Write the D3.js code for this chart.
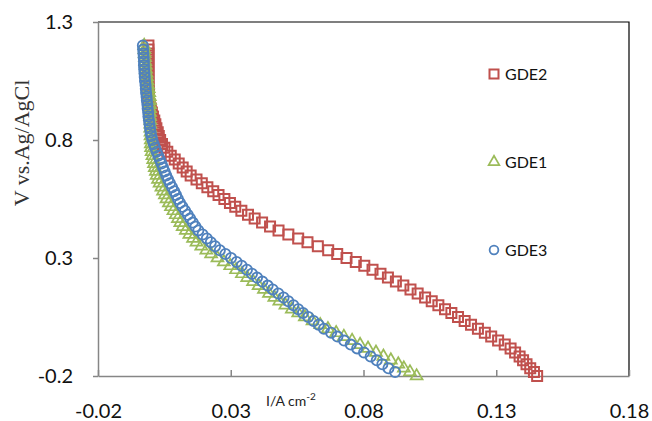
<!DOCTYPE html>
<html>
<head>
<meta charset="utf-8">
<script src="https://cdnjs.cloudflare.com/ajax/libs/d3/7.8.5/d3.min.js"></script>
<style>
  body { margin: 0; background: #fff; }
</style>
</head>
<body>
<div id="container"></div>
<script>
let w = 652;
let h = 421;
let plotLeft = 98, plotRight = 629, plotTop = 22, plotBottom = 376;

// DATA
let xTicks = [-0.02, 0.03, 0.08, 0.13, 0.18];
let yTicks = [-0.2, 0.3, 0.8, 1.3];
let seriesNames = ["GDE2", "GDE1", "GDE3"];

// sweep potential (V vs. Ag/AgCl), shared by all three electrodes
let potential = [
  1.200, 1.183, 1.167, 1.150, 1.133, 1.117, 1.100, 1.083, 1.067, 1.050, 1.033, 1.017,
  1.000, 0.983, 0.967, 0.950, 0.933, 0.917, 0.900, 0.883, 0.867, 0.850, 0.833, 0.817,
  0.800, 0.783, 0.767, 0.750, 0.733, 0.717, 0.700, 0.683, 0.667, 0.650, 0.633, 0.617,
  0.600, 0.583, 0.567, 0.550, 0.533, 0.517, 0.500, 0.483, 0.467, 0.450, 0.433, 0.417,
  0.400, 0.383, 0.367, 0.350, 0.333, 0.317, 0.300, 0.283, 0.267, 0.250, 0.233, 0.217,
  0.200, 0.183, 0.167, 0.150, 0.133, 0.117, 0.100, 0.083, 0.067, 0.050, 0.033, 0.017,
  0.000, -0.017, -0.033, -0.050, -0.067, -0.083, -0.100, -0.117, -0.133, -0.150, -0.167, -0.183, -0.200
];

// current density (A cm-2)
let gde2 = [
  -0.0010, -0.0010, -0.0010, -0.0010, -0.0010, -0.0010, -0.0010, -0.0010, -0.0010, -0.0010, -0.0010, -0.0009,
  -0.0009, -0.0009, -0.0008, -0.0005, -0.0001, 0.0003, 0.0007, 0.0012, 0.0016, 0.0020, 0.0025, 0.0029,
  0.0034, 0.0041, 0.0050, 0.0061, 0.0074, 0.0089, 0.0104, 0.0119, 0.0134, 0.0149, 0.0171, 0.0191,
  0.0212, 0.0234, 0.0254, 0.0276, 0.0297, 0.0317, 0.0340, 0.0365, 0.0390, 0.0418, 0.0448, 0.0480,
  0.0517, 0.0554, 0.0589, 0.0628, 0.0667, 0.0701, 0.0736, 0.0771, 0.0803, 0.0834, 0.0864, 0.0892,
  0.0922, 0.0950, 0.0977, 0.1004, 0.1032, 0.1057, 0.1082, 0.1107, 0.1131, 0.1156, 0.1181, 0.1205,
  0.1231, 0.1257, 0.1281, 0.1307, 0.1332, 0.1354, 0.1371, 0.1388, 0.1401, 0.1414, 0.1428, 0.1442, 0.1454
];
let gde1 = [
  -0.0026, -0.0025, -0.0024, -0.0023, -0.0022, -0.0020, -0.0019, -0.0017, -0.0015, -0.0013, -0.0011, -0.0009,
  -0.0007, -0.0005, -0.0004, -0.0004, -0.0004, -0.0004, -0.0004, -0.0003, -0.0003, -0.0003, -0.0002, -0.0002,
  -0.0001, -0.0001, 0.0000, 0.0002, 0.0005, 0.0008, 0.0011, 0.0014, 0.0018, 0.0021, 0.0026, 0.0032,
  0.0039, 0.0045, 0.0052, 0.0058, 0.0067, 0.0075, 0.0084, 0.0093, 0.0101, 0.0110, 0.0119, 0.0131,
  0.0144, 0.0158, 0.0171, 0.0189, 0.0208, 0.0226, 0.0250, 0.0274, 0.0298, 0.0320, 0.0342, 0.0362,
  0.0384, 0.0405, 0.0425, 0.0444, 0.0464, 0.0483, 0.0506, 0.0530, 0.0554, 0.0579, 0.0608, 0.0637,
  0.0666, 0.0697, 0.0726, 0.0757, 0.0787, 0.0817, 0.0847, 0.0875, 0.0903, 0.0931, 0.0952, 0.0975, 0.1000
];
let gde3 = [
  -0.0031, -0.0030, -0.0029, -0.0028, -0.0027, -0.0027, -0.0026, -0.0025, -0.0024, -0.0023, -0.0021, -0.0020,
  -0.0019, -0.0017, -0.0016, -0.0014, -0.0013, -0.0011, -0.0010, -0.0008, -0.0006, -0.0004, -0.0002, 0.0001,
  0.0005, 0.0010, 0.0015, 0.0021, 0.0027, 0.0033, 0.0039, 0.0045, 0.0051, 0.0057, 0.0064, 0.0071,
  0.0079, 0.0087, 0.0094, 0.0101, 0.0109, 0.0118, 0.0128, 0.0138, 0.0147, 0.0157, 0.0167, 0.0178,
  0.0194, 0.0210, 0.0225, 0.0241, 0.0259, 0.0280, 0.0301, 0.0322, 0.0341, 0.0361, 0.0380, 0.0399,
  0.0419, 0.0439, 0.0458, 0.0479, 0.0499, 0.0517, 0.0536, 0.0554, 0.0572, 0.0592, 0.0612, 0.0631,
  0.0651, 0.0678, 0.0702, 0.0727, 0.0752, 0.0776, 0.0802, 0.0827, 0.0850, 0.0871, 0.0894, 0.0919
];

let colors = ["#C0504D", "#9BBB59", "#4F81BD"];

// SVG
let viz = d3.select("#container").append("svg")
    .attr("width", w)
    .attr("height", h)
    .style("display", "block")
    .style("background-color", "white");

let xScale = d3.scaleLinear().domain([-0.02, 0.18]).range([plotLeft, plotRight]);
let yScale = d3.scaleLinear().domain([-0.2, 1.3]).range([plotBottom, plotTop]);

// plot area border (top + right are black)
viz.append("path")
    .attr("d", "M" + plotLeft + "," + plotTop + "H" + plotRight + "V" + plotBottom)
    .attr("fill", "none")
    .attr("stroke", "#000")
    .attr("stroke-width", 1.2);

// AXES
let xAxis = d3.axisBottom(xScale)
    .tickValues(xTicks)
    .tickSizeInner(-6)
    .tickSizeOuter(0)
    .tickPadding(28)
    .tickFormat(function(d){ return String(d); });

let yAxis = d3.axisLeft(yScale)
    .tickValues(yTicks)
    .tickSizeInner(5)
    .tickSizeOuter(0)
    .tickPadding(20)
    .tickFormat(function(d){ return String(d); });

let gx = viz.append("g").attr("transform", "translate(0," + plotBottom + ")").call(xAxis);
let gy = viz.append("g").attr("transform", "translate(" + plotLeft + ",0)").call(yAxis);

[gx, gy].forEach(function(g){
  g.select(".domain").attr("stroke", "#868686").attr("stroke-width", 1.5);
  g.selectAll(".tick line").attr("stroke", "#868686").attr("stroke-width", 1.5);
  g.selectAll(".tick text")
    .attr("fill", "#111")
    .style("font-family", "Lato, 'Open Sans', sans-serif")
    .style("font-size", "20px");
});

// SERIES
let symbols = [d3.symbolSquare, d3.symbolTriangle, d3.symbolCircle];
let sizes = [100, 62, 82];
let widths = [2, 1.7, 1.8];
let allSeries = [gde2, gde1, gde3];

allSeries.forEach(function(series, s){
  let pts = series.map(function(c, i){ return {i: c, v: potential[i]}; });
  let sym = d3.symbol().type(symbols[s]).size(sizes[s]);
  viz.append("g").selectAll("path").data(pts).enter()
    .append("path")
      .attr("d", sym)
      .attr("transform", function(d){ return "translate(" + xScale(d.i) + "," + yScale(d.v) + ")"; })
      .attr("fill", "none")
      .attr("stroke", colors[s])
      .attr("stroke-width", widths[s]);
});

// LEGEND
let legendY = [74, 162, 250];
let legendSizes = [81, 50, 60];
seriesNames.forEach(function(name, s){
  let g = viz.append("g").attr("transform", "translate(494," + legendY[s] + ")");
  g.append("path")
    .attr("d", d3.symbol().type(symbols[s]).size(legendSizes[s])())
    .attr("fill", "none")
    .attr("stroke", colors[s])
    .attr("stroke-width", widths[s]);
  g.append("text")
    .attr("x", 11)
    .attr("y", 6)
    .attr("fill", "#111")
    .style("font-family", "Lato, 'Open Sans', sans-serif")
    .style("font-size", "16px")
    .text(name);
});

// AXIS TITLES
let xt = viz.append("text")
    .attr("x", 266)
    .attr("y", 406)
    .attr("fill", "#222")
    .style("font-family", "Lato, 'Open Sans', sans-serif")
    .style("font-size", "14px")
    .text("I/A cm");
xt.append("tspan")
    .attr("dy", -6)
    .style("font-size", "10px")
    .text("-2");

viz.append("text")
    .attr("transform", "translate(29,143) rotate(-90)")
    .attr("text-anchor", "middle")
    .attr("fill", "#333")
    .style("font-family", "'Liberation Serif', 'Times New Roman', serif")
    .style("font-size", "22px")
    .text("V vs.Ag/AgCl");
</script>
</body>
</html>
